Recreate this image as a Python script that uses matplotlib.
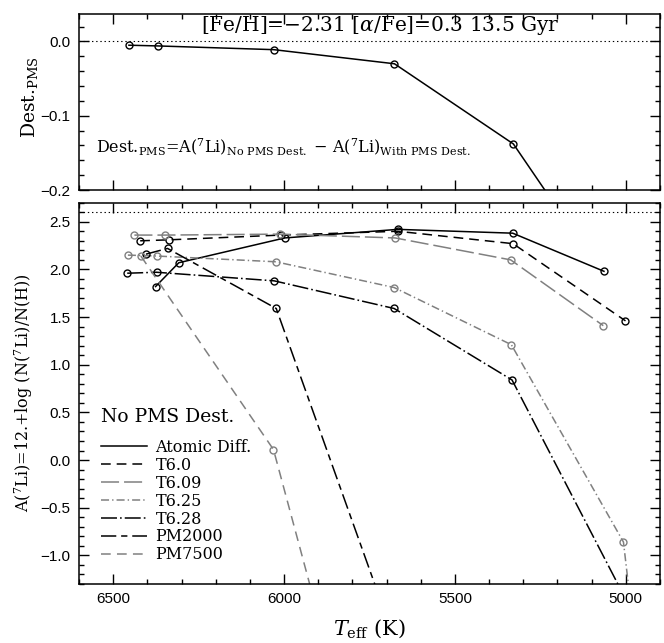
import matplotlib
matplotlib.use('Agg')
import matplotlib.pyplot as plt
from matplotlib.lines import Line2D
from matplotlib.ticker import MultipleLocator

plt.rcParams['lines.scale_dashes'] = False
plt.rcParams['mathtext.fontset'] = 'dejavuserif'
plt.rcParams['font.family'] = 'Liberation Sans'

# top panel: PMS destruction
teff_dest = [6454, 6368, 6030, 5677, 5329, 5000]
dest_pms = [-0.005, -0.006, -0.011, -0.030, -0.138, -0.36]

# bottom panel: A(Li) for each model set
teff_atomic = [6376, 6308, 5998, 5667, 5331, 5064]
li_atomic = [1.82, 2.07, 2.33, 2.42, 2.38, 1.98]
teff_t60 = [6421, 6338, 6010, 5667, 5330, 5001]
li_t60 = [2.30, 2.31, 2.36, 2.40, 2.27, 1.46]
teff_t609 = [6438, 6349, 6011, 5675, 5337, 5066]
li_t609 = [2.36, 2.36, 2.37, 2.33, 2.10, 1.41]
teff_t625 = [6457, 6371, 6024, 5678, 5335, 5007, 4967]
li_t625 = [2.15, 2.14, 2.08, 1.81, 1.21, -0.86, -2.1]
teff_t628 = [6459, 6373, 6029, 5678, 5333, 4980]
li_t628 = [1.96, 1.97, 1.88, 1.59, 0.84, -1.6]
teff_pm2000 = [6404, 6341, 6023, 5680]
li_pm2000 = [2.16, 2.22, 1.59, -1.85]
teff_pm7500 = [6419, 6031, 5700]
li_pm7500 = [2.14, 0.11, -4.3]

labels = ['Atomic Diff.', 'T6.0', 'T6.09', 'T6.25', 'T6.28', 'PM2000', 'PM7500']

gray = '0.5'
serif = 'DejaVu Serif'

fig = plt.figure(figsize=(6.64, 6.43), dpi=100)
ax1 = fig.add_axes([0.119, 0.7045, 0.875, 0.2737])
ax2 = fig.add_axes([0.119, 0.0918, 0.875, 0.593])

mk = dict(marker='o', markersize=5, markerfacecolor='none', markeredgewidth=1.0)

ax1.plot(teff_dest, dest_pms, color='k', lw=1.1, **mk)
ax1.axhline(0.0, color='k', lw=0.8, ls=(0, (1, 2)))
ax1.set_ylim(-0.2, 0.037)
ax1.yaxis.set_major_locator(MultipleLocator(0.1))
ax1.yaxis.set_minor_locator(MultipleLocator(0.02))
ax1.tick_params(axis='x', labelbottom=False)

styles = [
    ('k', '-'),
    ('k', (0, (7, 4.3))),
    (gray, (0, (13, 3.6))),
    (gray, (0, (5.8, 2.2, 1.0, 2.2))),
    ('k', (0, (11.5, 2.2, 1.2, 2.2))),
    ('k', (0, (11, 3.5, 4.5, 3.5))),
    (gray, (0, (7, 4.5))),
]
series = [
    (teff_atomic, li_atomic), (teff_t60, li_t60), (teff_t609, li_t609),
    (teff_t625, li_t625), (teff_t628, li_t628), (teff_pm2000, li_pm2000),
    (teff_pm7500, li_pm7500),
]
handles = []
for (t, a), (c, ls), lab in zip(series, styles, labels):
    ax2.plot(t, a, color=c, ls=ls, lw=1.1, markeredgecolor=c, **mk)
    handles.append(Line2D([], [], color=c, ls=ls, lw=1.1, label=lab))

ax2.axhline(2.6, color='k', lw=0.8, ls=(0, (1, 2)))
ax2.set_ylim(-1.3, 2.7)
ax2.yaxis.set_major_locator(MultipleLocator(0.5))
ax2.yaxis.set_minor_locator(MultipleLocator(0.1))

for ax in (ax1, ax2):
    ax.set_xlim(6600, 4900)
    ax.xaxis.set_major_locator(MultipleLocator(500))
    ax.xaxis.set_minor_locator(MultipleLocator(100))
    ax.tick_params(which='both', direction='in', top=True, right=True,
                   labelsize=11, pad=6, width=1.0)
    ax.tick_params(which='major', length=7.2)
    ax.tick_params(which='minor', length=3.8)
    for s in ax.spines.values():
        s.set_linewidth(1.1)

ax1.text(0.518, 0.932, r'[Fe/H]=$-$2.31 [$\alpha$/Fe]=0.3 13.5 Gyr',
         transform=ax1.transAxes, ha='center', va='center',
         family=serif, fontsize=14.5)
ax1.text(0.029, 0.244,
         r'Dest.$_{\rm PMS}$=A($^{7}$Li)$_{\rm No\ PMS\ Dest.}$ $-$ A($^{7}$Li)$_{\rm With\ PMS\ Dest.}$',
         transform=ax1.transAxes, ha='left', va='center',
         family=serif, fontsize=11.5)

ax2.text(0.038, 0.439, 'No PMS Dest.', transform=ax2.transAxes,
         ha='left', va='center', family=serif, fontsize=13.5)
ax2.legend(handles=handles, loc='upper left', bbox_to_anchor=(0.038, 0.381),
           frameon=False, borderpad=0, borderaxespad=0, handlelength=2.9,
           handletextpad=0.5, labelspacing=0.06,
           prop={'family': serif, 'size': 11.5})

fig.text(0.045, 0.849, r'Dest.$_{\rm PMS}$', rotation=90, ha='center',
         va='center', family=serif, fontsize=13.5)
fig.text(0.036, 0.39, r'A($^{7}$Li)=12.+log (N($^{7}$Li)/N(H))', rotation=90,
         ha='center', va='center', family=serif, fontsize=11.5)
fig.text(0.556, 0.023, r'$T_{\rm eff}$ (K)', ha='center', va='center',
         family=serif, fontsize=15)

fig.savefig('out.png', dpi=100)
